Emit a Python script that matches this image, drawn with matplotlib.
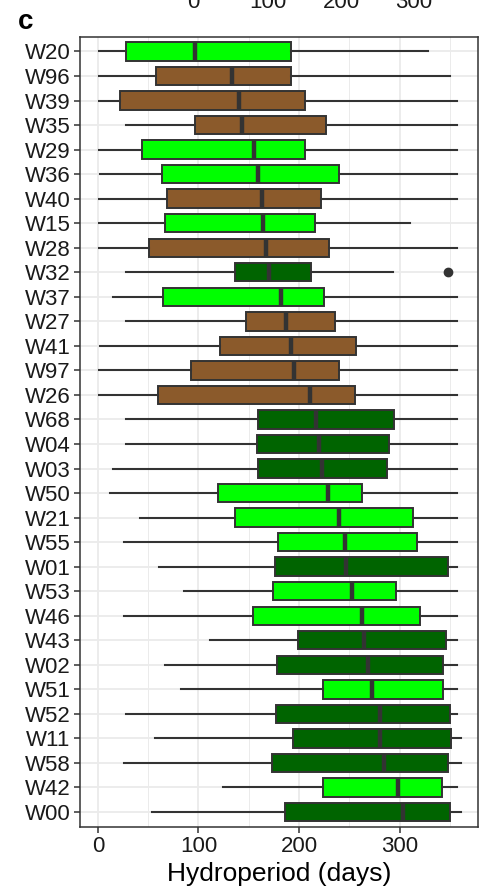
import numpy as np
import matplotlib
matplotlib.use("Agg")
import matplotlib.pyplot as plt

plt.rcParams['font.family'] = ['Liberation Sans', 'DejaVu Sans']

# sites, top to bottom
sites = ["W20", "W96", "W39", "W35", "W29", "W36", "W40", "W15", "W28", "W32",
         "W37", "W27", "W41", "W97", "W26", "W68", "W04", "W03", "W50", "W21",
         "W55", "W01", "W53", "W46", "W43", "W02", "W51", "W52", "W11", "W58",
         "W42", "W00"]
group = ["light", "brown", "brown", "brown", "light", "light", "brown", "light", "brown", "dark",
         "light", "brown", "brown", "brown", "brown", "dark", "dark", "dark", "light", "light",
         "light", "dark", "light", "light", "dark", "dark", "light", "dark", "dark", "dark",
         "light", "dark"]

whislo = [1, 1, 1, 28, 1, 2, 1, 1, 1, 28,
          15, 28, 2, 1, 1, 28, 28, 15, 12, 42,
          26, 61, 86, 26, 111, 67, 83, 28, 57, 26,
          124, 54]
q1 = [28, 58, 22, 97, 44, 64, 69, 67, 51, 136,
      65, 147, 121, 93, 60, 159, 158, 159, 119, 136,
      179, 176, 174, 154, 199, 178, 224, 177, 194, 173,
      224, 186]
med = [97, 133, 140, 143, 155, 159, 163, 164, 167, 170,
       182, 187, 192, 195, 211, 217, 220, 223, 229, 240,
       246, 247, 253, 263, 265, 269, 273, 281, 281, 285,
       298, 303]
q3 = [192, 192, 206, 227, 206, 240, 222, 216, 230, 212,
      225, 236, 257, 240, 256, 294, 290, 288, 263, 313,
      317, 348, 296, 320, 346, 343, 343, 350, 351, 348,
      342, 350]
whishi = [328, 350, 357, 357, 357, 357, 357, 310, 357, 293,
          357, 357, 357, 357, 357, 357, 357, 357, 357, 357,
          357, 357, 357, 357, 357, 357, 357, 357, 361, 361,
          357, 361]
outliers = {"W32": [348]}

colors = {"light": "#00FF00", "brown": "#8B5A2B", "dark": "#006400"}

fig = plt.figure(figsize=(4.8, 8.86), dpi=100)
ax = fig.add_axes([0.1673, 0.0669, 0.8285, 0.8916])

stats = []
for i, s in enumerate(sites):
    stats.append(dict(label=s, whislo=whislo[i], q1=q1[i], med=med[i], q3=q3[i],
                      whishi=whishi[i], fliers=outliers.get(s, [])))

bp = ax.bxp(stats, positions=np.arange(len(sites)), vert=False, widths=0.75,
            patch_artist=True, showcaps=False,
            boxprops=dict(edgecolor="#333333", linewidth=1.4),
            whiskerprops=dict(color="#333333", linewidth=1.5),
            medianprops=dict(color="#333333", linewidth=3.2, solid_capstyle="butt"),
            flierprops=dict(marker="o", markerfacecolor="#333333", markeredgecolor="#333333",
                            markersize=6))
for patch, g in zip(bp["boxes"], group):
    patch.set_facecolor(colors[g])
for b in bp["boxes"] + bp["medians"] + bp["whiskers"] + bp["fliers"]:
    b.set_zorder(3)

ax.set_xlim(-17.5, 378)
ax.set_ylim(len(sites) - 0.4, -0.6)
ax.set_xticks([0, 100, 200, 300])
ax.set_xticks([50, 150, 250, 350], minor=True)
ax.set_yticks(np.arange(len(sites)))
ax.set_yticklabels(sites)
ax.tick_params(axis="y", which="minor", left=False)
ax.tick_params(which="major", length=4, width=1.1, color="#333333", labelsize=16,
               labelcolor="#1a1a1a", pad=3)
ax.tick_params(axis="x", which="minor", bottom=False)
ax.grid(True, which="major", color="#ebebeb", linewidth=1.3, zorder=0)
ax.grid(True, which="minor", axis="x", color="#ebebeb", linewidth=0.7, zorder=0)
ax.set_axisbelow(True)
for sp in ax.spines.values():
    sp.set_color("#333333")
    sp.set_linewidth(1.1)

ax.set_xlabel("Hydroperiod (days)", fontsize=19, color="#000000", labelpad=3)

# panel label and clipped axis labels of the panel above
fig.text(26 / 480, 1 - 22 / 886, "c", fontsize=20, fontweight="bold", ha="center", va="center")
top_ticks = ["0", "100", "200", "300"]
top_pos = [193, 268, 341, 414]
for t, p in zip(top_ticks, top_pos):
    fig.text(p / 480, 1 - 7.5 / 886, t, fontsize=16, ha="center", va="baseline", color="#1a1a1a")

fig.savefig("out.png", dpi=100)
